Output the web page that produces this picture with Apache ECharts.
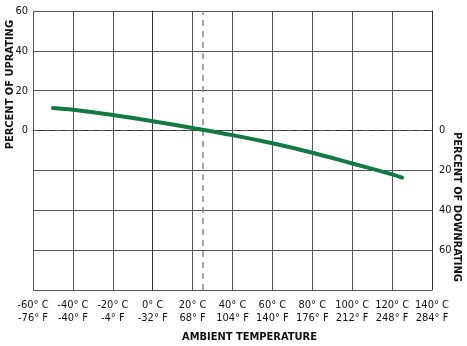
<!DOCTYPE html>
<html>
<head>
<meta charset="utf-8">
<script src="https://cdn.jsdelivr.net/npm/echarts@6/dist/echarts.min.js"></script>
<style>
  html, body { margin: 0; padding: 0; background: #fff; }
  #chart { width: 467px; height: 346px; }
</style>
</head>
<body>
<div id="chart"></div>
<script>
// temperature ticks (deg C) and their labels
var tickC = [-60, -40, -20, 0, 20, 40, 60, 80, 100, 120, 140];
var labelC = ['-60° C', '-40° C', '-20° C', '0° C', '20° C', '40° C', '60° C', '80° C', '100° C', '120° C', '140° C'];
var labelF = ['-76° F', '-40° F', '-4° F', '-32° F', '68° F', '104° F', '140° F', '176° F', '212° F', '248° F', '284° F'];

// derating curve (deg C, percent; + = uprating, - = downrating)
var tempC = [-50, -40, -20, 0, 20, 40, 60, 80, 100, 120, 125];
var percent = [11.3, 10.4, 7.8, 4.7, 1.3, -2.3, -6.4, -11.1, -16.5, -22.0, -23.6];

var refTemp = 25;
var font = '"Liberation Sans Narrow", "DejaVu Sans Condensed", sans-serif';

var myChart = echarts.init(document.getElementById('chart'));

var option = {
    animation: false,
    grid: { left: 33, right: 35, top: 11, bottom: 56, containLabel: false },
    xAxis: {
        type: 'value',
        min: -60, max: 140, interval: 20,
        axisLine: { show: true, lineStyle: { color: '#333', width: 1 } },
        axisTick: { show: false },
        splitLine: { show: true, lineStyle: { color: '#555', width: 1 } },
        axisLabel: {
            margin: 9,
            color: '#111',
            fontFamily: font,
            fontSize: 11,
            lineHeight: 13,
            formatter: function (v) {
                var i = tickC.indexOf(v);
                return i < 0 ? '' : labelC[i] + '\n' + labelF[i];
            }
        }
    },
    yAxis: [
        {
            type: 'value',
            position: 'left',
            min: -80, max: 60, interval: 20,
            axisLine: { show: true, lineStyle: { color: '#333', width: 1 } },
            axisTick: { show: false },
            splitLine: {
                show: true,
                // hide the 0 line, it is drawn dashed below
                lineStyle: { color: ['#555', '#555', '#555', '#555', 'rgba(0,0,0,0)', '#555', '#555', '#555'], width: 1 }
            },
            axisLabel: {
                margin: 5, color: '#111', fontFamily: font, fontSize: 11,
                formatter: function (v) { return v >= 0 ? String(v) : ''; }
            }
        },
        {
            type: 'value',
            position: 'right',
            min: -80, max: 60, interval: 20,
            axisLine: { show: true, lineStyle: { color: '#333', width: 1 } },
            axisTick: { show: false },
            splitLine: { show: false },
            axisLabel: {
                margin: 7, color: '#111', fontFamily: font, fontSize: 11,
                formatter: function (v) { return (v <= 0 && v >= -60) ? String(Math.abs(v)) : ''; }
            }
        }
    ],
    graphic: [
        {
            type: 'text', left: 5, top: 20, rotation: Math.PI / 2,
            style: { text: 'PERCENT OF UPRATING', fill: '#111', font: 'bold 11px ' + font }
        },
        {
            type: 'text', left: 451, top: 132, rotation: -Math.PI / 2,
            style: { text: 'PERCENT OF DOWNRATING', fill: '#111', font: 'bold 11px ' + font }
        },
        {
            type: 'text', left: 182, top: 332,
            style: { text: 'AMBIENT TEMPERATURE', fill: '#111', font: 'bold 11px ' + font }
        }
    ],
    series: [
        {
            type: 'line',
            smooth: 0.4,
            showSymbol: false,
            data: tempC.map(function (t, i) { return [t, percent[i]]; }),
            lineStyle: { color: '#127a41', width: 4, cap: 'round' },
            z: 5,
            markLine: {
                silent: true,
                symbol: 'none',
                label: { show: false },
                data: [
                    { yAxis: 0, lineStyle: { color: '#555', type: [6, 5], width: 1 } },
                    { xAxis: refTemp, lineStyle: { color: '#888', type: [6, 5], width: 1.5 } }
                ]
            }
        }
    ]
};
if (option && typeof option === "object") {
    myChart.setOption(option, true);
}
</script>
</body>
</html>
